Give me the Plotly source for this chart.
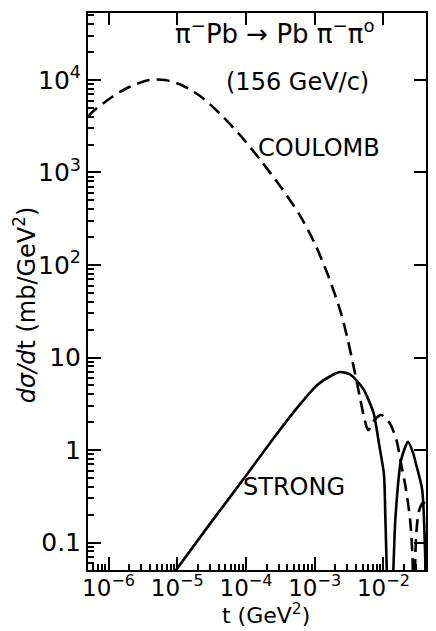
import plotly.graph_objects as go

# ---------------- data ----------------
coulomb_t = [5.0e-7, 5.6e-7, 1.12e-6, 2.0e-6, 3.9e-6, 6.6e-6, 1.15e-5, 2.24e-5,
             4.35e-5, 8.4e-5, 1.62e-4, 3.13e-4, 6.03e-4, 9.8e-4, 1.6e-3,
             2.42e-3, 3.03e-3, 3.78e-3, 4.56e-3, 5.35e-3, 6.0e-3, 7.4e-3, 9.3e-3,
             1.23e-2, 1.55e-2, 1.8e-2, 2.1e-2, 2.45e-2, 2.66e-2, 2.75e-2,
             3.0e-2, 3.3e-2, 3.8e-2, 4.3e-2]
coulomb_y = [3980, 4400, 6550, 8400, 10000, 10000, 8830, 6550,
             4190, 2480, 1365, 715, 348, 177, 74,
             30, 15.5, 7.3, 3.65, 2.11, 1.64, 2.11, 2.39,
             1.96, 1.28, 0.72, 0.40, 0.175, 0.065, 0.01,
             0.12, 0.22, 0.27, 0.25]

strong_t = [8.0e-6, 3.0e-5, 9.2e-5, 2.5e-4, 5.5e-4, 1.09e-3, 1.81e-3, 2.35e-3,
            3.18e-3, 4.14e-3, 5.2e-3, 7.2e-3, 8.7e-3, 1.02e-2, 1.07e-2, 1.245e-2,
            1.49e-2, 1.81e-2, 2.28e-2, 2.7e-2, 2.96e-2, 3.67e-2, 4.37e-2]
strong_y = [0.042, 0.16, 0.485, 1.33, 2.84, 5.05, 6.47, 6.97,
            6.64, 5.57, 4.46, 2.51, 1.13, 0.54, 0.175, 0.005,
            0.175, 0.78, 1.23, 0.93, 0.72, 0.37, 0.005]

x_tickvals = [1e-6, 1e-5, 1e-4, 1e-3, 1e-2]
x_ticktext = ["10<sup>−6</sup>", "10<sup>−5</sup>", "10<sup>−4</sup>",
              "10<sup>−3</sup>", "10<sup>−2</sup>"]
y_tickvals = [0.1, 1, 10, 100, 1000, 10000]
y_ticktext = ["0.1", "1", "10", "10<sup>2</sup>", "10<sup>3</sup>", "10<sup>4</sup>"]

x_range_log = [-6.30, -1.38]
y_range_log = [-1.297, 4.724]

# ---------------- figure ----------------
W, H = 436, 631
ML, MR, MT, MB = 88, 8, 13, 61
PW, PH = W - ML - MR, H - MT - MB
FONT = "DejaVu Sans"

def px(x):
    return (x - ML) / PW

def py(y):
    return (H - MB - y) / PH

fig = go.Figure()
fig.add_trace(go.Scatter(x=coulomb_t, y=coulomb_y, mode="lines",
                         line=dict(color="black", width=2.6, dash="13px,7px",
                                   shape="spline", smoothing=0.8),
                         showlegend=False, hoverinfo="skip"))
fig.add_trace(go.Scatter(x=strong_t, y=strong_y, mode="lines",
                         line=dict(color="black", width=2.6,
                                   shape="spline", smoothing=0.6),
                         showlegend=False, hoverinfo="skip"))
# helper trace to display the mirrored top/right major ticks
fig.add_trace(go.Scatter(x=[], y=[], xaxis="x2", yaxis="y2",
                         showlegend=False, hoverinfo="skip"))

axis_common = dict(showgrid=False, zeroline=False, color="black",
                   linecolor="black", linewidth=2)

fig.update_layout(
    width=W, height=H,
    margin=dict(l=ML, r=MR, t=MT, b=MB),
    paper_bgcolor="white", plot_bgcolor="white",
    font=dict(family=FONT, color="black"),
    xaxis=dict(type="log", range=x_range_log, showline=True, mirror=True,
               ticks="inside", ticklen=13, tickwidth=2,
               tickvals=x_tickvals, ticktext=x_ticktext,
               tickfont=dict(size=23, family=FONT), ticklabelstandoff=-4,
               minor=dict(ticks="inside", ticklen=6, tickwidth=1.5,
                          tickcolor="black", dtick="D1"),
               **axis_common),
    yaxis=dict(type="log", range=y_range_log, showline=True, mirror=True,
               ticks="inside", ticklen=13, tickwidth=2,
               tickvals=y_tickvals, ticktext=y_ticktext,
               tickfont=dict(size=25, family=FONT),
               minor=dict(ticks="inside", ticklen=6, tickwidth=1.5,
                          tickcolor="black", dtick="D1"),
               **axis_common),
    xaxis2=dict(type="log", range=x_range_log, overlaying="x", side="top",
                anchor="y2", ticks="inside", ticklen=12, tickwidth=2,
                tickvals=x_tickvals, showticklabels=False, showline=False,
                showgrid=False, zeroline=False, tickcolor="black"),
    yaxis2=dict(type="log", range=y_range_log, overlaying="y", side="right",
                anchor="x2", ticks="inside", ticklen=12, tickwidth=2,
                tickvals=y_tickvals, showticklabels=False, showline=False,
                showgrid=False, zeroline=False, tickcolor="black"),
)

ann = dict(xref="paper", yref="paper", showarrow=False,
           xanchor="center", yanchor="middle")
f24 = dict(family=FONT, size=24, color="black")
fig.add_annotation(text="π<sup>−</sup>Pb → Pb π<sup>−</sup>π<sup>o</sup>",
                   x=px(276), y=py(32), font=dict(family=FONT, size=26, color="black"), **ann)
fig.add_annotation(text="(156 GeV/c)", x=px(299), y=py(82), font=f24, **ann)
fig.add_annotation(text="COULOMB", x=px(320), y=py(148), font=f24, **ann)
fig.add_annotation(text="STRONG", x=px(295), y=py(487), font=f24, **ann)
fig.add_annotation(text="<i>dσ/d</i>t (mb/GeV<sup>2</sup>)", x=px(25), y=py(305),
                   textangle=-90, font=f24, **ann)
fig.add_annotation(text="t (GeV<sup>2</sup>)", x=px(267), y=py(614),
                   font=dict(family=FONT, size=22, color="black"), **ann)

fig.write_html("out.html")
